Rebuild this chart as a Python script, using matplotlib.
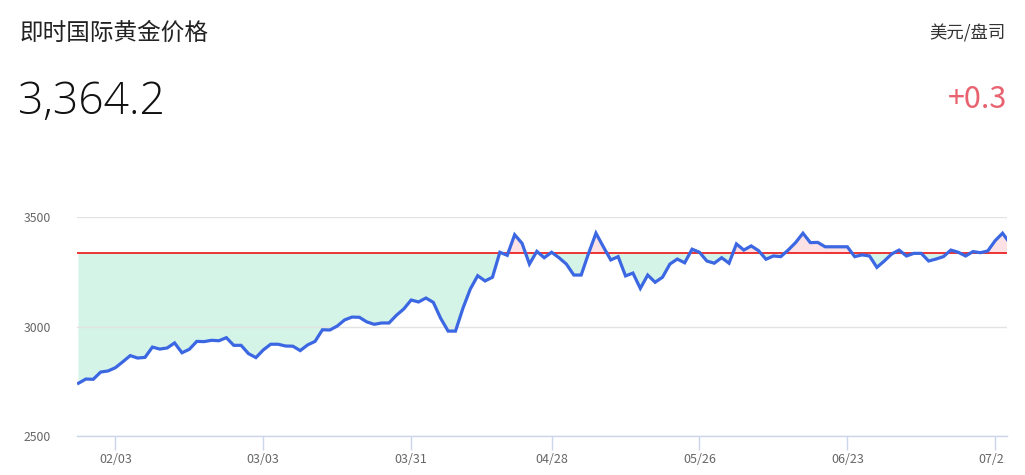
import numpy as np
import matplotlib
matplotlib.use("Agg")
import matplotlib.pyplot as plt
from matplotlib.transforms import Bbox, TransformedBbox, ScaledTranslation

plt.rcParams['font.family'] = ['Noto Sans CJK SC', 'DejaVu Sans']

# Daily gold price (USD/oz), trading days from 01/27 to 07/23
prices = [
    2741, 2760, 2759, 2792, 2797, 2812, 2839, 2867, 2856, 2859,
    2906, 2897, 2902, 2925, 2880, 2896, 2932, 2931, 2937, 2935,
    2949, 2914, 2914, 2876, 2858, 2893, 2919, 2919, 2911, 2910,
    2890, 2916, 2932, 2985, 2984, 3002, 3030, 3043, 3042, 3021,
    3010, 3016, 3016, 3051, 3080, 3121, 3112, 3130, 3110, 3037,
    2979, 2979, 3083, 3171, 3232, 3208, 3225, 3339, 3325, 3419,
    3380, 3285, 3343, 3314, 3339, 3314, 3285, 3235, 3235, 3334,
    3426, 3364, 3304, 3319, 3231, 3244, 3174, 3235, 3202, 3225,
    3285, 3308, 3291, 3353, 3339, 3299, 3289, 3314, 3289, 3377,
    3349, 3368, 3346, 3307, 3322, 3319, 3349, 3383, 3426, 3383,
    3384, 3364, 3364, 3364, 3364, 3319, 3327, 3322, 3270, 3299,
    3331, 3349, 3322, 3334, 3334, 3299, 3308, 3319, 3349, 3339,
    3322, 3342, 3337, 3345, 3392, 3426, 3380,
]
ref_price = 3334
tick_idx = [5, 25, 45, 64, 84, 104, 124]
tick_labels = ['02/03', '03/03', '03/31', '04/28', '05/26', '06/23', '07/21']
y_ticks = [2500, 3000, 3500]

title = '即时国际黄金价格'
unit = '美元/盘司'
last_price = '3,364.2'
change = '+0.3'

x = np.arange(len(prices))
y = np.array(prices, dtype=float)

fig = plt.figure(figsize=(10.25, 4.75), dpi=100)
ax = fig.add_axes([77 / 1025, 39 / 475, 930 / 1025, 219 / 475])

# green where below the reference, pink where above
ax.fill_between(x, y, ref_price, where=y <= ref_price, interpolate=True,
                color='#d4f4e8', linewidth=0, zorder=1)
ax.fill_between(x, y, ref_price, where=y >= ref_price, interpolate=True,
                color='#fce1e5', linewidth=0, zorder=1)
ax.axhline(ref_price, color='#e80000', linewidth=1.1, zorder=2)
ax.plot(x, y, color='#3b67e2', linewidth=2.3, solid_joinstyle='miter', zorder=3)

ax.set_xlim(-0.2, 125.6)
ax.set_ylim(2500, 3500)

ax.set_yticks(y_ticks)
ax.set_yticklabels([str(v) for v in y_ticks])
ax.set_xticks(tick_idx)
ax.set_xticklabels(tick_labels)

ax.grid(axis='y', color='#e3e3e3', linewidth=1.0, zorder=0)
for s in ['top', 'right', 'left']:
    ax.spines[s].set_visible(False)
ax.spines['bottom'].set_color('#ccd6eb')
ax.spines['bottom'].set_linewidth(1.0)
ax.spines['bottom'].set_zorder(4)

ax.tick_params(axis='y', length=0, pad=0, labelsize=8.8, labelcolor='#666666')
ax.tick_params(axis='x', length=10, width=1, color='#ccd6eb', pad=2,
               labelsize=9, labelcolor='#666666')
for lbl in ax.get_yticklabels():
    lbl.set_horizontalalignment('left')
    lbl.set_x(0)
    lbl.set_transform(ax.get_yaxis_transform() +
                      ScaledTranslation(-53 / 100, 0, fig.dpi_scale_trans))

# clip x labels at the right edge of the plot
clip = TransformedBbox(Bbox([[0, 0], [1005 / 1025, 1]]), fig.transFigure)
for lbl in ax.get_xticklabels():
    lbl.set_clip_box(clip)
    lbl.set_clip_on(True)

fig.text(20 / 1025, 1 - 33 / 475, title, fontsize=17, color='#222222',
         ha='left', va='center')
fig.text(1006 / 1025, 1 - 33 / 475, unit, fontsize=12.5, color='#333333',
         ha='right', va='center')
fig.text(18 / 1025, 1 - 103 / 475, last_price, fontsize=32, color='#111111',
         ha='left', va='center', family='Open Sans', fontweight='light')
fig.text(1007 / 1025, 1 - 100 / 475, change, fontsize=22, color='#e8636f',
         ha='right', va='center')

fig.savefig('out.png', dpi=100)
